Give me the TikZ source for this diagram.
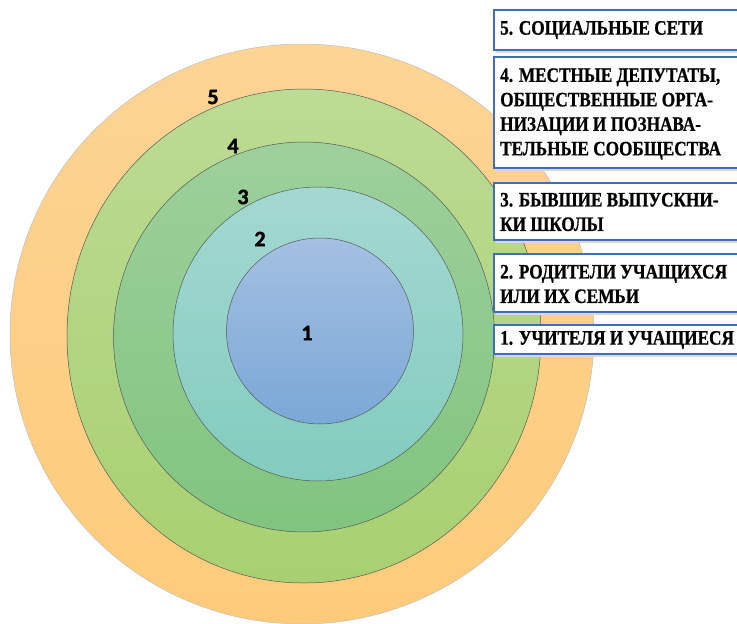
\documentclass[tikz,border=0pt]{standalone}
\usepackage{fontspec}
\setmainfont{Liberation Serif}
\newfontfamily\boxfont{Liberation Serif}[FakeStretch=0.84,FakeBold=0.8]
\newfontfamily\numfont{Carlito}[FakeBold=1.6]
\usetikzlibrary{shapes.geometric}
\definecolor{oT}{RGB}{252,212,148}
\definecolor{oB}{RGB}{253,203,122}
\definecolor{gT}{RGB}{188,219,148}
\definecolor{gB}{RGB}{168,208,112}
\definecolor{mT}{RGB}{158,208,156}
\definecolor{mB}{RGB}{128,196,126}
\definecolor{tT}{RGB}{164,216,210}
\definecolor{tB}{RGB}{130,204,190}
\definecolor{bT}{RGB}{164,192,226}
\definecolor{bB}{RGB}{122,168,214}
\definecolor{boxblue}{RGB}{62,110,190}
\tikzset{
  ring/.style={ellipse, inner sep=0pt, draw=black!65, line width=0.5pt, shade},
  lbl/.style={font=\numfont\bfseries\fontsize{22}{24}\selectfont, inner sep=0pt},
  infobox/.style={draw=boxblue, line width=2.8pt, fill=white, inner sep=0pt},
  infotext/.style={font=\boxfont\bfseries\fontsize{20.5}{24.5}\selectfont, align=left, anchor=west, inner sep=0pt}
}
\begin{document}
\begin{tikzpicture}[x=1pt,y=-1pt]
\useasboundingbox (0,0) rectangle (737,624);
\clip (0,0) rectangle (737,624);
\fill[white] (0,0) rectangle (737,624);
% rings
\node[ring, draw=black!25, top color=oT, bottom color=oB, minimum width=584pt, minimum height=580pt] (r5) at (302,334) {};
\node[ring, top color=gT, bottom color=gB, minimum width=474pt, minimum height=494pt] (r4) at (304,336) {};
\node[ring, top color=mT, bottom color=mB, minimum width=381pt, minimum height=390pt] (r3) at (304,337) {};
\node[ring, top color=tT, bottom color=tB, minimum width=290pt, minimum height=294pt] (r2) at (318,334) {};
\node[ring, top color=bT, bottom color=bB, minimum width=187pt, minimum height=186pt] (r1) at (320,331) {};
% ring labels
\node[lbl] (n5) at (213,97) {5};
\node[lbl] (n4) at (233,146) {4};
\node[lbl] (n3) at (243,197) {3};
\node[lbl] (n2) at (260,239) {2};
\node[lbl] (n1) at (307,333) {1};
% shadows
\foreach \a/\b in {10/50,57/168,183/240,254/312,325/354}{
  \fill[black!15] (496,\a+3) rectangle (760,\b+3);
}
% boxes
\draw[infobox] (494,10) rectangle (760,50);
\draw[infobox] (494,57) rectangle (760,168);
\draw[infobox] (494,183) rectangle (760,240);
\draw[infobox] (494,254) rectangle (760,312);
\draw[infobox] (494,325) rectangle (760,354);
\node[infotext] (t5) at (500,30) {5. СОЦИАЛЬНЫЕ СЕТИ};
\node[infotext] (t4) at (500,114) {4. МЕСТНЫЕ ДЕПУТАТЫ,\\ОБЩЕСТВЕННЫЕ ОРГА-\\НИЗАЦИИ И ПОЗНАВА-\\ТЕЛЬНЫЕ СООБЩЕСТВА};
\node[infotext] (t3) at (500,212) {3. БЫВШИЕ ВЫПУСКНИ-\\КИ ШКОЛЫ};
\node[infotext] (t2) at (500,284) {2. РОДИТЕЛИ УЧАЩИХСЯ\\ИЛИ ИХ СЕМЬИ};
\node[infotext] (t1) at (500,340) {1. УЧИТЕЛЯ И УЧАЩИЕСЯ};
\end{tikzpicture}
\end{document}
